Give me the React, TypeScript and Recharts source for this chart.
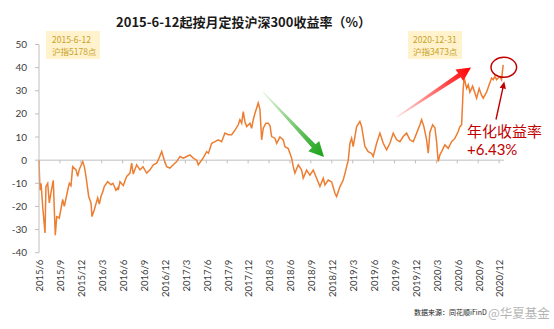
import React from 'react';
import { LineChart, Line, XAxis, YAxis, ReferenceLine } from 'recharts';

// months since 2015-06 (tick 0 = 2015/6)
const months = [
  0, 0.14, 0.29, 0.53, 0.86, 1.0, 1.25, 1.48, 1.72, 1.96, 2.05, 2.19, 2.34, 2.54, 2.91, 3.4, 3.63, 4.12, 4.35, 4.59,
  4.83, 5.31, 5.55, 5.78, 6.27, 6.5, 6.74, 7.13, 7.46, 7.6, 7.93, 8.42, 8.65, 8.89, 9.14, 9.36, 9.85, 10.33, 10.61, 11.04,
  11.29, 11.37, 11.62, 12.09, 12.58, 13.05, 13.29, 13.52, 14.01, 14.49, 14.91, 15.45, 15.92, 16.39, 16.88, 17.11, 17.6, 17.97, 18.31, 18.78,
  19.26, 19.75, 20.22, 20.69, 21.18, 21.65, 22.13, 22.62, 22.85, 23.09, 23.56, 24.05, 24.31, 24.77, 25.24, 25.71, 26.2, 26.67, 27.15, 27.64,
  28.11, 28.58, 28.82, 29.07, 29.3, 29.55, 29.79, 30.26, 30.5, 30.73, 30.98, 31.45, 31.69, 31.94, 32.17, 32.55, 32.88, 33.13, 33.37, 33.84,
  34.09, 34.56, 35.03, 35.28, 35.75, 36.24, 36.47, 36.71, 37.19, 37.67, 37.9, 38.39, 38.86, 39.34, 39.82, 40.3, 40.77, 41.02, 41.49, 41.98,
  42.45, 42.69, 43.17, 43.64, 44.13, 44.36, 44.6, 44.84, 45.07, 45.56, 46.03, 46.28, 46.75, 47.22, 47.71, 47.94, 48.43, 48.9, 49.38, 49.86,
  50.34, 50.81, 51.3, 51.77, 52.24, 52.73, 53.2, 53.68, 54.17, 54.64, 54.88, 55.21, 55.6, 55.83, 56.07, 56.46, 56.79, 57.03, 57.26, 57.51,
  57.75, 58.22, 58.7, 59.18, 59.66, 60.13, 60.37, 60.62, 60.85, 60.99, 61.34, 61.57, 61.81, 62.2, 62.53, 62.77, 63.14, 63.49, 63.72, 64.2,
  64.57, 64.92, 65.15, 65.39, 65.64, 65.86, 66.11, 66.35, 66.58,
];

// cumulative return (%)
const returns = [
  0, -13, -10, -20, -31.5, -11.4, -10, -18.5, -14, -10, -8.7, -21, -32.4, -24.4, -25, -17, -20, -13, -10, -11,
  -2.8, -4.2, -7, -4, -0.6, -2.8, -7, -15.7, -18.5, -24.4, -21.4, -16.3, -19, -15.7, -13.8, -11.4, -9.3, -10.6, -10, -13,
  -12, -12.9, -9.3, -11, -7, -5.6, -1.3, -6, -2, -4.2, -2.8, -5.6, -4.2, -2, -1.3, 0.1, 3.7, 0, -2.8, -3.4,
  -2, -0.6, 1.6, 0.9, 1.6, 2.3, 0.9, 0, -2, -1, 1, 3.7, 3, 7.3, 8, 8.8, 8, 11.7, 11, 11,
  13, 15.3, 17.5, 16, 21, 16.5, 14.5, 16, 13.8, 17.5, 20.3, 24.7, 22, 8.8, 13.8, 16, 16, 15, 10.2, 9.5,
  7.3, 10, 8.8, 5.8, 5, 0.9, -2.8, -5.6, -2, -4.3, -7.8, -4.3, -6.5, -4.3, -7.8, -11.4, -7.8, -10.7, -8.6, -9.4,
  -14.3, -15.7, -11.4, -8.6, -2.8, 0, 7.3, 9.5, 5.9, 14.5, 16.7, 14.5, 5.9, 3.7, 2.9, 1.6, 7.3, 11.7, 7.3, 4.5,
  7.3, 11.7, 8.8, 8, 10.2, 11.7, 8.8, 8, 11.7, 15.3, 17.5, 14.5, 8.8, 3, 12, 15.3, 14, 8, -0.6, 2.3,
  3.7, 6.6, 5.1, 8, 9.4, 12.4, 14.5, 15.3, 31.2, 35.5, 31, 32.6, 29.4, 32, 29, 26.8, 31, 28, 26.8, 29.4,
  32.6, 35.5, 34.8, 36.2, 34.8, 35.5, 36.2, 34.8, 41.2,
];

const tickMonths = [0, 3, 6, 9, 12, 15, 18, 21, 24, 27, 30, 33, 36, 39, 42, 45, 48, 51, 54, 57, 60, 63, 66];
const tickLabels = [
  '2015/6', '2015/9', '2015/12', '2016/3', '2016/6', '2016/9', '2016/12', '2017/3', '2017/6', '2017/9', '2017/12', '2018/3',
  '2018/6', '2018/9', '2018/12', '2019/3', '2019/6', '2019/9', '2019/12', '2020/3', '2020/6', '2020/9', '2020/12',
];
const yTicks = [-40, -30, -20, -10, 0, 10, 20, 30, 40, 50];

const data = months.map((m, i) => ({ m, v: returns[i] }));

const FONT = "Lato, 'Noto Sans CJK SC', sans-serif";
const CJK = "'Noto Sans CJK SC', sans-serif";
const AXIS = '#BFBFBF';

function blockArrow(
  x1: number, y1: number, x2: number, y2: number,
  tailHalf: number, shaftHalf: number, headHalf: number, headLen: number,
) {
  const dx = x2 - x1, dy = y2 - y1;
  const L = Math.hypot(dx, dy);
  const ux = dx / L, uy = dy / L;
  const nx = -uy, ny = ux;
  const bx = x2 - ux * headLen, by = y2 - uy * headLen;
  const pts = [
    [x1 + nx * tailHalf, y1 + ny * tailHalf],
    [bx + nx * shaftHalf, by + ny * shaftHalf],
    [bx + nx * headHalf, by + ny * headHalf],
    [x2, y2],
    [bx - nx * headHalf, by - ny * headHalf],
    [bx - nx * shaftHalf, by - ny * shaftHalf],
    [x1 - nx * tailHalf, y1 - ny * tailHalf],
  ];
  return pts.map((p) => p.map((n) => n.toFixed(2)).join(',')).join(' ');
}

const XTick = (props: any) => {
  const { x, y, payload } = props;
  const idx = tickMonths.indexOf(payload.value);
  return (
    <text
      transform={`translate(${x + 1},${y}) rotate(-90)`}
      textAnchor="end"
      dy="0.35em"
      fontSize={9.5}
      fill="#404040"
      fontFamily={FONT}
    >
      {idx >= 0 ? tickLabels[idx] : ''}
    </text>
  );
};

export default function App() {
  return (
    <div style={{ position: 'absolute', left: 0, top: 0, width: 554, height: 329, background: '#fff' }}>
      <LineChart
        width={554}
        height={329}
        data={data}
        margin={{ top: 44.5, right: 50, bottom: 36.3, left: 9 }}
      >
        <XAxis
          dataKey="m"
          type="number"
          domain={[0, 66.7]}
          ticks={tickMonths}
          interval={0}
          axisLine={false}
          tickLine={false}
          tickSize={0}
          tickMargin={7}
          height={40}
          tick={<XTick />}
        />
        <YAxis
          type="number"
          domain={[-40, 50]}
          ticks={yTicks}
          interval={0}
          width={30}
          axisLine={{ stroke: AXIS }}
          tickLine={{ stroke: AXIS }}
          tickSize={4}
          tickMargin={8}
          tick={{ fontSize: 10, fill: '#404040', fontFamily: FONT }}
        />
        <ReferenceLine y={0} stroke={AXIS} strokeWidth={1} />
        {tickMonths.map((m) => (
          <ReferenceLine
            key={m}
            segment={[{ x: m, y: 0 }, { x: m, y: -1.4 }]}
            stroke={AXIS}
            strokeWidth={1}
          />
        ))}
        <Line
          type="linear"
          dataKey="v"
          stroke="#ED7D31"
          strokeWidth={1.5}
          dot={false}
          isAnimationActive={false}
        />
      </LineChart>
      <svg
        width={554}
        height={329}
        style={{ position: 'absolute', left: 0, top: 0, pointerEvents: 'none' }}
      >
        <defs>
          <linearGradient id="gGreen" gradientUnits="userSpaceOnUse" x1={263} y1={92} x2={324} y2={157}>
            <stop offset="0%" stopColor="#E2F4D6" />
            <stop offset="100%" stopColor="#16A016" />
          </linearGradient>
          <linearGradient id="gRed" gradientUnits="userSpaceOnUse" x1={397} y1={117} x2={471} y2={68}>
            <stop offset="0%" stopColor="#FFE0E0" />
            <stop offset="100%" stopColor="#FF0000" />
          </linearGradient>
        </defs>
        <text x={243.5} y={27} textAnchor="middle" fontSize={13} fontWeight="bold" fill="#1a1a1a" fontFamily={CJK}>
          2015-6-12起按月定投沪深300收益率（%）
        </text>

        <rect x={46} y={31} width={54} height={28} fill="#FFF2CC" />
        <text x={52} y={42.5} fontSize={8.5} fill="#C9A22A" fontFamily={CJK}>2015-6-12</text>
        <text x={52} y={54.5} fontSize={8.5} fill="#C9A22A" fontFamily={CJK}>沪指5178点</text>

        <rect x={408} y={31} width={54} height={28} fill="#FFF2CC" />
        <text x={413} y={42.5} fontSize={8.5} fill="#C9A22A" fontFamily={CJK}>2020-12-31</text>
        <text x={413} y={54.5} fontSize={8.5} fill="#C9A22A" fontFamily={CJK}>沪指3473点</text>

        <polygon points={blockArrow(263, 92, 324, 157, 0.5, 2.5, 7.5, 15)} fill="url(#gGreen)" />
        <polygon points={blockArrow(397, 117, 471, 67.5, 0.5, 2.3, 7, 14)} fill="url(#gRed)" />

        <ellipse cx={503.8} cy={67.3} rx={12.8} ry={10} fill="none" stroke="#C00000" strokeWidth={1.5} />
        <polygon points={blockArrow(496, 119.5, 504.3, 81.5, 0.7, 0.7, 3.2, 7)} fill="#C00000" />

        <text x={467} y={136.5} fontSize={15} fill="#C00000" fontFamily={CJK}>年化收益率</text>
        <text x={467} y={155} fontSize={15} fill="#C00000" fontFamily={FONT}>+6.43%</text>

        <text x={414} y={315} fontSize={7} fill="#222" fontFamily={CJK}>数据来源：同花顺iFinD</text>
        <text x={488} y={318} fontSize={12.5} fill="#9a9a9a" fillOpacity={0.75} fontFamily={CJK}>
          @华夏基金
        </text>
      </svg>
    </div>
  );
}
